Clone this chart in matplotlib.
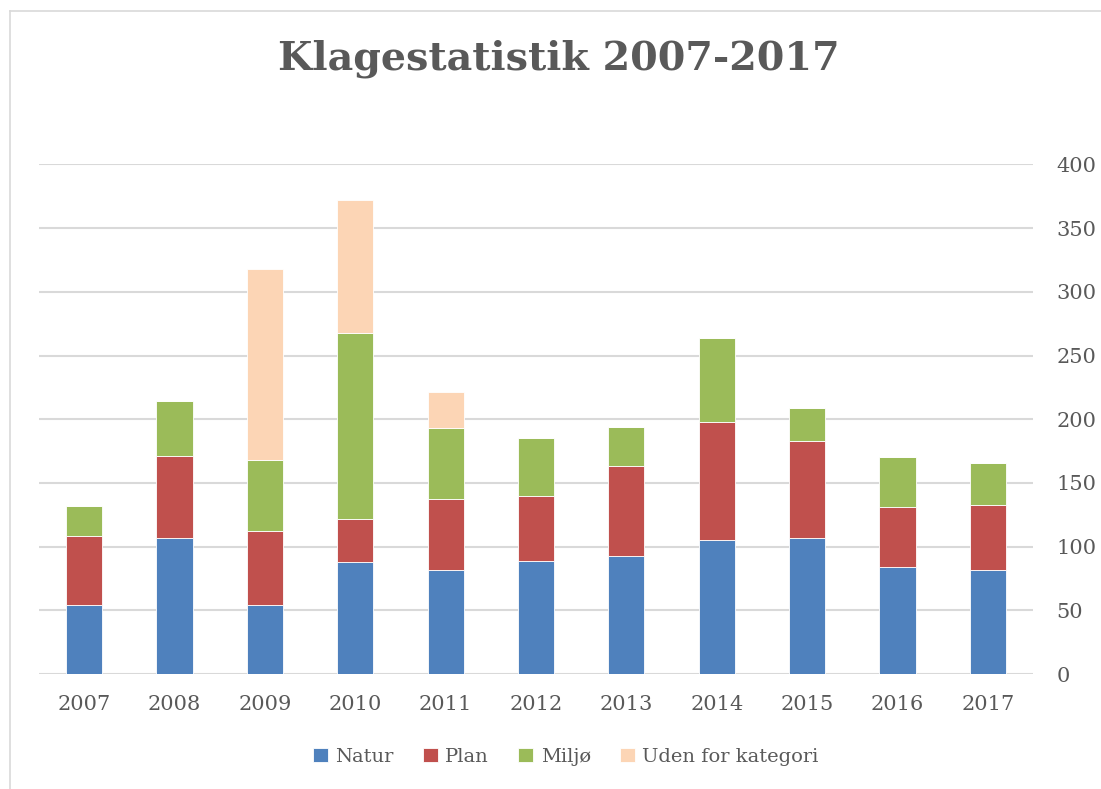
import matplotlib.pyplot as plt
import numpy as np
from matplotlib.lines import Line2D

# data
years = ["2007", "2008", "2009", "2010", "2011", "2012", "2013", "2014", "2015", "2016", "2017"]
natur = [54, 107, 54, 88, 82, 89, 93, 105, 107, 84, 82]
plan = [54, 64, 58, 34, 55, 51, 70, 93, 76, 47, 51]
miljo = [24, 43, 56, 146, 56, 45, 31, 66, 26, 39, 33]
uden = [0, 0, 150, 104, 28, 0, 0, 0, 0, 0, 0]

series = [("Natur", natur, "#4f81bd"),
          ("Plan", plan, "#c0504d"),
          ("Miljø", miljo, "#9bbb59"),
          ("Uden for kategori", uden, "#fcd5b5")]

txt = "#595959"
plt.rcParams['font.family'] = ['DejaVu Serif']

fig = plt.figure(figsize=(11.01, 7.89), dpi=100)
ax = fig.add_axes([39/1101, 1-674/789, (1033-39)/1101, (674-164.4)/789])

x = np.arange(len(years))
bottom = np.zeros(len(years))
for name, vals, col in series:
    vals = np.asarray(vals, dtype=float)
    ax.bar(x, vals, 0.4, bottom=bottom, color=col, label=name,
           edgecolor="white", linewidth=0.6, zorder=3)
    bottom += vals

ax.set_xlim(-0.5, len(years)-0.5)
ax.set_ylim(0, 400)
ax.set_yticks(range(0, 401, 50))
ax.yaxis.tick_right()
ax.grid(axis="y", color="#d9d9d9", linewidth=1.5, zorder=0)
ax.set_xticks(x)
ax.set_xticklabels(years)
ax.tick_params(axis="both", length=0, labelsize=15, colors=txt)
ax.tick_params(axis="y", pad=17)
ax.tick_params(axis="x", pad=15)
for s in ax.spines.values():
    s.set_visible(False)

fig.text(0.508, 0.925, "Klagestatistik 2007-2017", ha="center", va="center",
         fontsize=28.5, fontweight="bold", color=txt)

leg = fig.legend(loc="center", bbox_to_anchor=(0.514, 1-757/789), ncol=4,
                 frameon=False, fontsize=14, handlelength=0.75, handleheight=0.75,
                 handletextpad=0.4, columnspacing=1.5)
for t in leg.get_texts():
    t.set_color(txt)

# chart border (only top and left visible)
fig.add_artist(Line2D([10/1101, 1], [1-11/789, 1-11/789], color="#d9d9d9", lw=1.2))
fig.add_artist(Line2D([10/1101, 10/1101], [0, 1-11/789], color="#d9d9d9", lw=1.2))

fig.savefig("out.png", dpi=100)
